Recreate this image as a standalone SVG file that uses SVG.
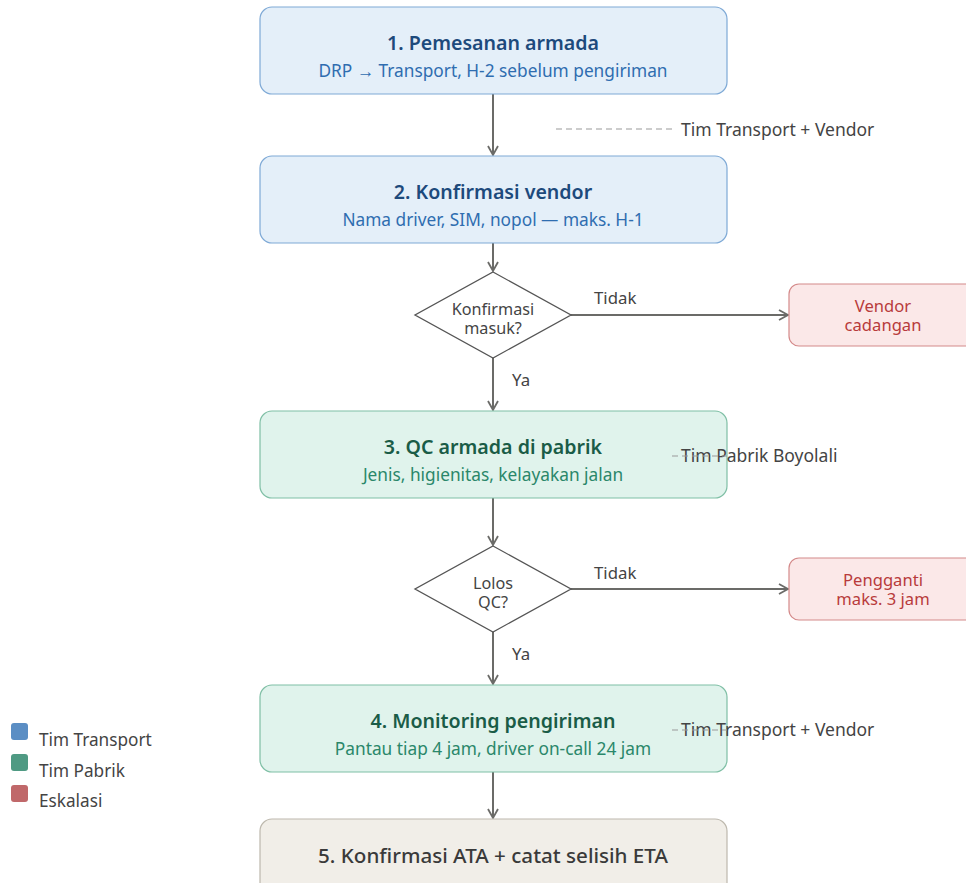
<svg xmlns="http://www.w3.org/2000/svg" width="966" height="883" viewBox="0 0 966 883">
<defs>
<style>
text{font-family:"Noto Sans","Open Sans","Liberation Sans",sans-serif;}
.blue{fill:#e4eff9;stroke:#7ea9d6;stroke-width:1.2}
.green{fill:#e0f3ec;stroke:#7fbfa5;stroke-width:1.2}
.red{fill:#fbe8e8;stroke:#d48a8a;stroke-width:1.2}
.gray{fill:#f1eee8;stroke:#bdb8ad;stroke-width:1.2}
.dia{fill:#fff;stroke:#555;stroke-width:1.3}
.t{font-size:19.6px;font-weight:600;text-anchor:middle}
.s{font-size:17.3px;text-anchor:middle}
.tb{fill:#1d4a7c}.sb{fill:#2f6db0}
.tg{fill:#1a5c47}.sg{fill:#2a876a}
.r{fill:#b83b3b;font-size:16.6px;text-anchor:middle}
.d{fill:#444;font-size:16.2px;text-anchor:middle}
.lbl{fill:#444;font-size:16.8px}
.ann{fill:#444;font-size:17.5px}
.leg{fill:#444;font-size:17.2px}
.edge{stroke:#6b6b68;stroke-width:2;fill:none;marker-end:url(#ah)}
.dash{stroke:#999;stroke-width:1.2;stroke-dasharray:6 4;fill:none}
</style>
<marker id="ah" viewBox="0 0 12 12" refX="10" refY="6" markerWidth="12" markerHeight="12" markerUnits="userSpaceOnUse" orient="auto">
<path d="M1,1 L10,6 L1,11" fill="none" stroke="#6b6b68" stroke-width="1.8"/>
</marker>
</defs>
<rect width="966" height="883" fill="#fff"/>
<g id="connectors">
<line class="edge" x1="493" y1="94" x2="493" y2="155"/>
<line class="edge" x1="493" y1="243" x2="493" y2="271"/>
<line class="edge" x1="571" y1="315" x2="788" y2="315"/>
<line class="edge" x1="493" y1="358" x2="493" y2="410"/>
<line class="edge" x1="493" y1="498" x2="493" y2="545"/>
<line class="edge" x1="571" y1="589" x2="788" y2="589"/>
<line class="edge" x1="493" y1="632" x2="493" y2="684"/>
<line class="edge" x1="493" y1="772" x2="493" y2="818"/>
<text class="lbl" x="594" y="304">Tidak</text>
<text class="lbl" x="512" y="386">Ya</text>
<text class="lbl" x="594" y="579">Tidak</text>
<text class="lbl" x="512" y="660">Ya</text>
</g>
<g id="n1">
<rect class="blue" x="260" y="7" width="467" height="87" rx="12"/>
<text class="t tb" x="493" y="50">1. Pemesanan armada</text>
<text class="s sb" x="493" y="77">DRP → Transport, H-2 sebelum pengiriman</text>
</g>
<g id="n2">
<rect class="blue" x="260" y="156" width="467" height="87" rx="12"/>
<text class="t tb" x="493" y="199">2. Konfirmasi vendor</text>
<text class="s sb" x="493" y="226">Nama driver, SIM, nopol — maks. H-1</text>
</g>
<g id="d1">
<polygon class="dia" points="493,272 571,315 493,358 415,315"/>
<text class="d"><tspan x="493" y="315">Konfirmasi</tspan><tspan x="493" y="334">masuk?</tspan></text>
</g>
<g id="e1">
<rect class="red" x="789" y="284" width="188" height="62" rx="10"/>
<text class="r"><tspan x="883" y="312">Vendor</tspan><tspan x="883" y="331">cadangan</tspan></text>
</g>
<g id="n3">
<rect class="green" x="260" y="411" width="467" height="87" rx="12"/>
<text class="t tg" x="493" y="454">3. QC armada di pabrik</text>
<text class="s sg" x="493" y="481">Jenis, higienitas, kelayakan jalan</text>
</g>
<g id="d2">
<polygon class="dia" points="493,546 571,589 493,632 415,589"/>
<text class="d"><tspan x="493" y="589">Lolos</tspan><tspan x="493" y="608">QC?</tspan></text>
</g>
<g id="e2">
<rect class="red" x="789" y="558" width="188" height="62" rx="10"/>
<text class="r"><tspan x="883" y="586">Pengganti</tspan><tspan x="883" y="605">maks. 3 jam</tspan></text>
</g>
<g id="n4">
<rect class="green" x="260" y="685" width="467" height="87" rx="12"/>
<text class="t tg" x="493" y="728">4. Monitoring pengiriman</text>
<text class="s sg" x="493" y="755">Pantau tiap 4 jam, driver on-call 24 jam</text>
</g>
<g id="n5">
<rect class="gray" x="260" y="819" width="467" height="87" rx="12"/>
<text class="t" x="493" y="863" style="fill:#3a3a3a;font-weight:500;font-size:20.6px">5. Konfirmasi ATA + catat selisih ETA</text>
</g>
<g id="annotations">
<text class="ann" x="681" y="136">Tim Transport + Vendor</text>
<text class="ann" x="681" y="462">Tim Pabrik Boyolali</text>
<text class="ann" x="681" y="736">Tim Transport + Vendor</text>
<line class="dash" x1="556" y1="129" x2="672" y2="129"/>
<line class="dash" x1="672" y1="456" x2="727" y2="456"/>
<line class="dash" x1="672" y1="730" x2="727" y2="730"/>
</g>
<g id="legend">
<rect x="11" y="723" width="17" height="17" rx="3" fill="#5b8ec4"/>
<text class="leg" x="39" y="746">Tim Transport</text>
<rect x="11" y="754" width="17" height="17" rx="3" fill="#4f9a83"/>
<text class="leg" x="39" y="777">Tim Pabrik</text>
<rect x="11" y="785" width="17" height="17" rx="3" fill="#c0686a"/>
<text class="leg" x="39" y="807">Eskalasi</text>
</g>
</svg>
